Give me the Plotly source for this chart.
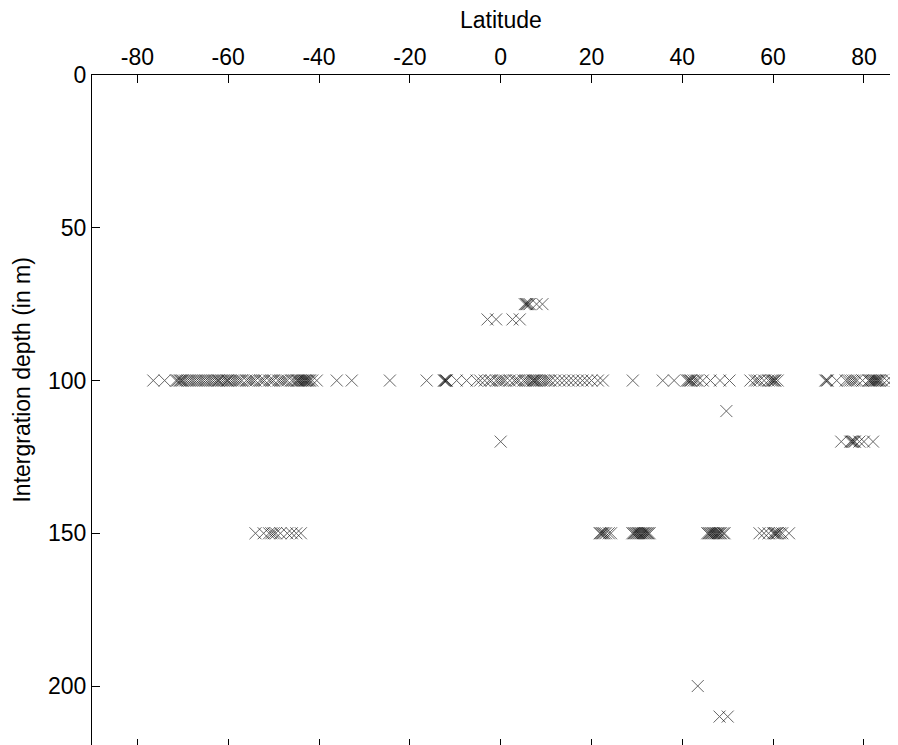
import plotly.graph_objects as go

# Latitudes of samples at each integration depth (m)
lat_75 = [5.3, 5.6, 5.8, 6.1, 6.4, 7.9, 9.2]
lat_80 = [-2.9, -1.0, 2.6, 4.2]
lat_100 = [-76.5, -74.0,
           -71.5, -71.2, -70.8, -70.5, -70.2, -70.0, -69.5, -69.0, -68.5, -68.0, -67.5,
           -67.0, -66.5, -66.0, -65.5, -65.0, -64.5, -64.0, -63.5, -63.0, -62.5, -62.2,
           -62.0, -61.5, -61.0, -60.5, -60.2, -60.0, -59.5, -59.0, -58.5, -58.0, -57.5,
           -57.0, -56.0, -55.5, -55.0, -54.5, -54.0, -53.0, -52.5, -52.0, -51.0, -50.5,
           -50.0, -49.0, -48.5, -48.0, -47.5, -47.0, -46.0, -45.5, -45.0, -44.7, -44.5,
           -44.2, -44.0, -43.7, -43.5, -43.2, -43.0, -42.7, -42.5, -42.2, -42.0, -41.5,
           -40.5, -36.1, -32.8, -24.4,
           -16.3, -12.5, -12.3, -12.2, -12.0, -11.9, -9.7, -7.5, -5.3,
           -4.5, -3.5, -2.5, -2.0, -1.0, -0.5, 0.0, 0.5, 1.0, 2.0, 3.0, 3.5, 4.0, 5.0,
           5.5, 6.0, 6.5, 7.0, 7.2, 7.5, 7.8, 8.0, 8.5, 9.0, 9.5, 10.0, 10.5, 11.0, 12.0,
           13.0, 14.0, 15.0, 16.0, 17.0, 18.0, 19.0, 20.0, 21.4, 22.5, 29.1,
           35.7, 38.2, 41.0, 41.3, 41.5, 41.8, 42.0, 42.5, 43.0, 43.4, 44.5, 46.2, 48.3,
           50.4, 55.0, 56.0, 56.5, 57.0, 58.0, 59.0, 59.5, 59.8, 60.0, 60.3, 60.5, 61.0,
           71.5, 71.8, 72.0, 74.0, 76.0, 76.5, 77.0, 77.5, 78.0, 78.5, 79.7,
           81.0, 81.3, 81.5, 81.8, 82.0, 82.3, 82.5, 82.8, 83.0, 83.3, 83.5, 84.0,
           85.0, 86.0, 87.0]
lat_110 = [49.7]
lat_120 = [0.0, 75.0, 77.0, 77.3, 77.5, 77.8, 78.0, 79.0, 80.0, 82.0]
lat_150 = [-54.0, -52.2, -51.0, -50.5, -50.0, -49.5, -48.5, -47.0, -46.0, -45.0, -44.0,
           21.8, 22.0, 22.3, 22.5, 22.8, 23.2, 23.8, 24.3,
           29.0, 29.3, 29.5, 29.8, 30.0, 30.3, 30.5, 30.8, 31.0, 31.3, 31.5, 31.8,
           32.0, 32.3, 32.5, 32.8,
           45.5, 45.8, 46.0, 46.3, 46.5, 46.8, 47.0, 47.3, 47.5, 47.8, 48.0, 48.3,
           48.5, 49.0, 49.3,
           57.0, 58.0, 59.0, 60.0, 60.3, 60.5, 60.8, 61.0, 61.5, 62.0, 63.5]
lat_200 = [43.4]
lat_210 = [48.2, 50.0]

depth_groups = [(75, lat_75), (80, lat_80), (100, lat_100), (110, lat_110),
                (120, lat_120), (150, lat_150), (200, lat_200), (210, lat_210)]

x_ticks = [-80, -60, -40, -20, 0, 20, 40, 60, 80]
x_ticktext = ["-80", "-60", "-40", "-20", "0", "20", "40", "60", "80"]
y_ticks = [0, 50, 100, 150, 200]

xs, ys = [], []
for d, lats in depth_groups:
    xs += lats
    ys += [d] * len(lats)

FONT = "Liberation Sans, Arial, sans-serif"
FS = 23

fig = go.Figure()
fig.add_trace(go.Scatter(
    x=xs, y=ys, mode="markers",
    marker=dict(symbol="x-thin", size=12, color="black", opacity=0.6,
                line=dict(width=1, color="black")),
    showlegend=False, hoverinfo="skip"))
# invisible trace for bottom axis ticks
fig.add_trace(go.Scatter(x=[0], y=[0], xaxis="x2", mode="markers",
                         marker=dict(opacity=0), showlegend=False, hoverinfo="skip"))

fig.update_layout(
    width=890, height=737,
    margin=dict(l=84, r=0, t=67, b=0),
    paper_bgcolor="white", plot_bgcolor="white",
    font=dict(family=FONT, size=FS, color="black"),
    xaxis=dict(side="top", range=[-90, 87.5], tickvals=x_ticks, ticktext=x_ticktext,
               ticks="inside", ticklen=8, tickcolor="black", tickwidth=1,
               showline=True, linecolor="black", linewidth=1,
               showgrid=False, zeroline=False,
               tickfont=dict(size=FS)),
    xaxis2=dict(side="bottom", overlaying="x", matches="x", tickvals=x_ticks,
                ticks="inside", ticklen=6, tickcolor="black", showticklabels=False,
                showline=False, showgrid=False, zeroline=False),
    yaxis=dict(range=[219.3, 0], tickvals=y_ticks,
               ticks="inside", ticklen=8, tickcolor="black", tickwidth=1,
               showline=True, linecolor="black", linewidth=1,
               showgrid=False, zeroline=False,
               tickfont=dict(size=FS)),
    annotations=[
        dict(text="Latitude", xref="x", x=0, yref="paper", y=1, yanchor="middle",
             yshift=55, showarrow=False, font=dict(size=FS)),
        dict(text="Intergration depth (in m)", xref="paper", x=0, xanchor="center",
             xshift=-70, yref="y", y=100, textangle=-90, showarrow=False,
             font=dict(size=FS)),
    ],
)

fig.write_html("out.html")
